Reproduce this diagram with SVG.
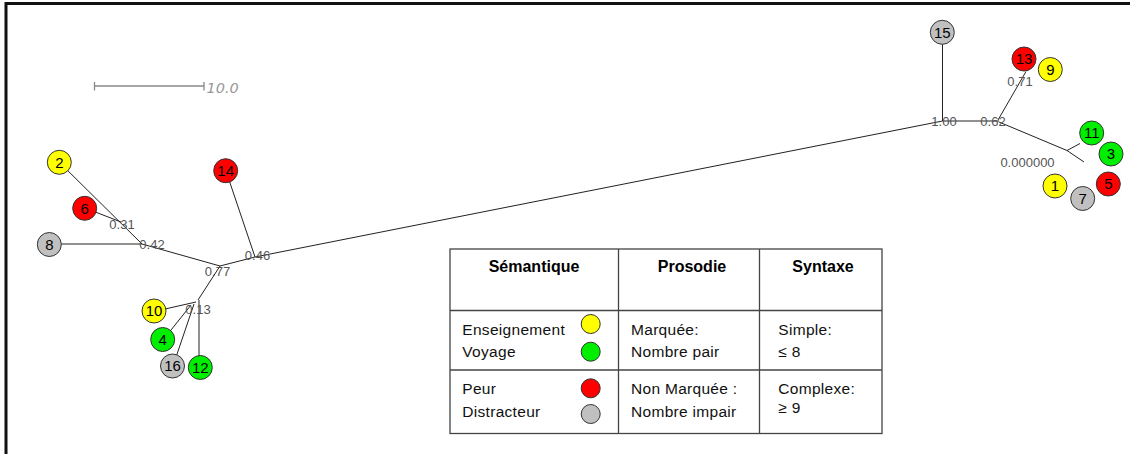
<svg xmlns="http://www.w3.org/2000/svg" width="1130" height="454" viewBox="0 0 1130 454">
<style>
.edge{stroke:#222;stroke-width:1;fill:none}
.nd{stroke:#333;stroke-width:1}
.y{fill:#ffff00}.r{fill:#ff0000}.g{fill:#00ee00}.k{fill:#c0c0c0}
.nt{font-family:"Liberation Sans",Arial,sans-serif;font-size:15px;fill:#000;text-anchor:middle}
.bl{font-family:"Liberation Sans",Arial,sans-serif;font-size:13px;fill:#555;text-anchor:middle}
.th{font-family:"Liberation Sans",Arial,sans-serif;font-size:16px;font-weight:bold;fill:#000;text-anchor:middle}
.td{font-family:"Liberation Sans",Arial,sans-serif;font-size:15.5px;letter-spacing:0.3px;fill:#111}
.grid{stroke:#444;stroke-width:1.3;fill:none}
</style>
<rect width="1130" height="454" fill="#fff"/>
<g id="frame">
<line x1="6" y1="2" x2="6" y2="454" stroke="#111" stroke-width="3"/>
<line x1="5" y1="3.5" x2="1130" y2="3.5" stroke="#111" stroke-width="3"/>
</g>
<g id="scale">
<line x1="94.5" y1="86" x2="204" y2="86" stroke="#888" stroke-width="1.3"/>
<line x1="94.5" y1="82" x2="94.5" y2="90.5" stroke="#888" stroke-width="1.3"/>
<line x1="204" y1="82" x2="204" y2="90.5" stroke="#888" stroke-width="1.3"/>
<text x="206.5" y="93" font-family="DejaVu Sans,sans-serif" font-size="14.5" font-style="italic" fill="#999">10.0</text>
</g>
<g id="connectors">
<line class="edge" x1="59" y1="162" x2="142" y2="244"/>
<line class="edge" x1="85" y1="208" x2="121" y2="222"/>
<line class="edge" x1="49" y1="244" x2="142" y2="244"/>
<line class="edge" x1="142" y1="244" x2="220" y2="266"/>
<line class="edge" x1="220" y1="266" x2="255" y2="257"/>
<line class="edge" x1="226" y1="171" x2="255" y2="257"/>
<line class="edge" x1="220" y1="266" x2="198" y2="300"/>
<line class="edge" x1="199" y1="300" x2="199" y2="360"/>
<line class="edge" x1="154" y1="311.5" x2="196" y2="302"/>
<line class="edge" x1="163" y1="340" x2="191" y2="305"/>
<line class="edge" x1="173" y1="366" x2="194" y2="304"/>
<line class="edge" x1="255" y1="257" x2="942.5" y2="121"/>
<line class="edge" x1="942.5" y1="33" x2="942.5" y2="121"/>
<line class="edge" x1="942.5" y1="121" x2="999" y2="121"/>
<line class="edge" x1="998" y1="120" x2="1026" y2="71.5"/>
<polyline class="edge" points="999,122 1067,150.5 1084,162"/>
<line class="edge" x1="1067" y1="150.5" x2="1080" y2="143.5"/>
</g>
<g id="branch-labels">
<text class="bl" x="122" y="228.5">0.31</text>
<text class="bl" x="152" y="249">0.42</text>
<text class="bl" x="217.5" y="275.5">0.77</text>
<text class="bl" x="257.5" y="260">0.46</text>
<text class="bl" x="198" y="313.5">0.13</text>
<text class="bl" x="944" y="125.5">1.00</text>
<text class="bl" x="993" y="125.5">0.62</text>
<text class="bl" x="1020" y="85.5">0.71</text>
<text class="bl" x="1027.5" y="166.5">0.000000</text>
</g>
<g id="node-2"><circle class="nd y" cx="59.3" cy="162.3" r="12"/><text class="nt" x="59.3" y="167.5">2</text></g>
<g id="node-6"><circle class="nd r" cx="84.7" cy="208.3" r="12"/><text class="nt" x="84.7" y="213.5">6</text></g>
<g id="node-8"><circle class="nd k" cx="49.3" cy="244.5" r="12"/><text class="nt" x="49.3" y="249.7">8</text></g>
<g id="node-14"><circle class="nd r" cx="225.7" cy="170.7" r="12"/><text class="nt" x="225.7" y="175.9">14</text></g>
<g id="node-10"><circle class="nd y" cx="154" cy="311" r="12"/><text class="nt" x="154" y="316.2">10</text></g>
<g id="node-4"><circle class="nd g" cx="162.7" cy="339.5" r="12"/><text class="nt" x="162.7" y="344.7">4</text></g>
<g id="node-16"><circle class="nd k" cx="172.5" cy="366" r="12"/><text class="nt" x="172.5" y="371.2">16</text></g>
<g id="node-12"><circle class="nd g" cx="200.3" cy="367.5" r="12"/><text class="nt" x="200.3" y="373">12</text></g>
<g id="node-15"><circle class="nd k" cx="942.3" cy="32.3" r="12"/><text class="nt" x="942.3" y="37.5">15</text></g>
<g id="node-13"><circle class="nd r" cx="1024" cy="59" r="12"/><text class="nt" x="1024" y="64.2">13</text></g>
<g id="node-9"><circle class="nd y" cx="1050.3" cy="69.5" r="12"/><text class="nt" x="1050.3" y="74.7">9</text></g>
<g id="node-11"><circle class="nd g" cx="1091.7" cy="133" r="12"/><text class="nt" x="1091.7" y="138.2">11</text></g>
<g id="node-3"><circle class="nd g" cx="1111" cy="154" r="12"/><text class="nt" x="1111" y="159.2">3</text></g>
<g id="node-5"><circle class="nd r" cx="1108.3" cy="184" r="12"/><text class="nt" x="1108.3" y="188.7">5</text></g>
<g id="node-1"><circle class="nd y" cx="1055" cy="186" r="12"/><text class="nt" x="1055" y="191.2">1</text></g>
<g id="node-7"><circle class="nd k" cx="1082.7" cy="198.5" r="12"/><text class="nt" x="1082.7" y="203.7">7</text></g>
<g id="legend">
<rect class="grid" x="450" y="249" width="432" height="184.5"/>
<line class="grid" x1="618.5" y1="249" x2="618.5" y2="433.5"/>
<line class="grid" x1="759.5" y1="249" x2="759.5" y2="433.5"/>
<line class="grid" x1="450" y1="310.5" x2="882" y2="310.5"/>
<line class="grid" x1="450" y1="370" x2="882" y2="370"/>
<text class="th" x="534" y="271.5">Sémantique</text>
<text class="th" x="692" y="271.5">Prosodie</text>
<text class="th" x="823" y="271.5">Syntaxe</text>
<text class="td" x="462.3" y="335">Enseignement</text>
<text class="td" x="462.3" y="357">Voyage</text>
<text class="td" x="462.3" y="394.3">Peur</text>
<text class="td" x="462.3" y="416.7">Distracteur</text>
<circle class="nd y" cx="590.7" cy="324" r="9.5"/>
<circle class="nd g" cx="590.7" cy="351.7" r="9.5"/>
<circle class="nd r" cx="590.7" cy="388.3" r="9.5"/>
<circle class="nd k" cx="590.7" cy="414" r="9.5"/>
<text class="td" x="631" y="335">Marquée:</text>
<text class="td" x="631" y="357">Nombre pair</text>
<text class="td" x="631" y="394.3">Non Marquée :</text>
<text class="td" x="631" y="416.7">Nombre impair</text>
<text class="td" x="778.3" y="335">Simple:</text>
<text class="td" x="778.3" y="356.7">≤ 8</text>
<text class="td" x="778.3" y="393.5">Complexe:</text>
<text class="td" x="778.3" y="413.3">≥ 9</text>
</g>
</svg>
